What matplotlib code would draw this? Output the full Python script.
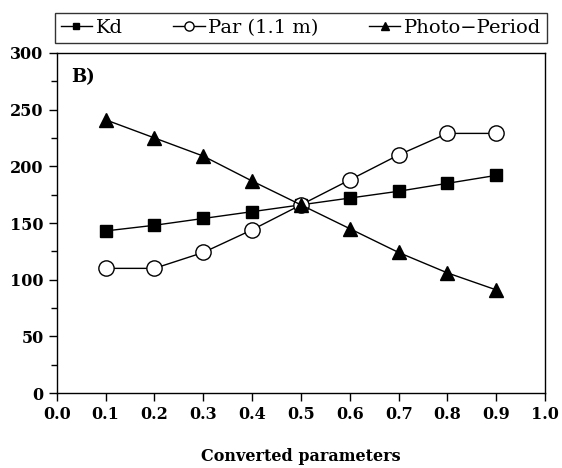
import matplotlib
matplotlib.use('Agg')
import matplotlib.pyplot as plt
from matplotlib.ticker import MultipleLocator

x = [0.1, 0.2, 0.3, 0.4, 0.5, 0.6, 0.7, 0.8, 0.9]
kd = [143, 148, 154, 160, 166, 172, 178, 185, 192]
par = [110, 110, 124, 144, 166, 188, 210, 229, 229]
photo = [241, 225, 209, 187, 166, 145, 124, 106, 91]

plt.rcParams['font.family'] = ['DejaVu Serif']
plt.rcParams['font.weight'] = 'bold'
plt.rcParams['axes.labelweight'] = 'bold'

fig = plt.figure(figsize=(5.62, 4.68), dpi=100)
ax = fig.add_axes([0.101, 0.160, 0.869, 0.727])

l1, = ax.plot(x, kd, '-s', color='black', lw=1, ms=8, mfc='black', label='Kd')
l2, = ax.plot(x, par, '-o', color='black', lw=1, ms=11, mfc='white', label='Par (1.1 m)')
l3, = ax.plot(x, photo, '-^', color='black', lw=1, ms=10, mfc='black', label='Photo\u2212Period')

ax.set_xlim(0, 1.0)
ax.set_ylim(0, 300)
ax.set_xticks([i / 10 for i in range(11)])
ax.set_xticklabels(['%.1f' % (i / 10) for i in range(11)])
ax.yaxis.set_major_locator(MultipleLocator(50))
ax.yaxis.set_minor_locator(MultipleLocator(25))
ax.tick_params(axis='both', which='both', direction='out', labelsize=11.5, width=1)
ax.tick_params(axis='both', which='major', length=6)
ax.tick_params(axis='y', which='minor', length=4)
for s in ax.spines.values():
    s.set_linewidth(1)

ax.text(0.03, 0.93, 'B)', transform=ax.transAxes, fontsize=13, va='center')
ax.set_xlabel('Converted parameters', fontsize=11.5, labelpad=18)

leg = fig.legend(handles=[l1, l2, l3], loc='center', bbox_to_anchor=(0.536, 0.94),
                 ncol=3, frameon=True, fancybox=False, edgecolor='black',
                 prop={'size': 14, 'weight': 'normal'}, handlelength=1.6,
                 columnspacing=2.6, borderpad=0.3, markerscale=0.6,
                 handletextpad=0.2)
leg.get_frame().set_linewidth(1)

fig.savefig('out.png', dpi=100)
